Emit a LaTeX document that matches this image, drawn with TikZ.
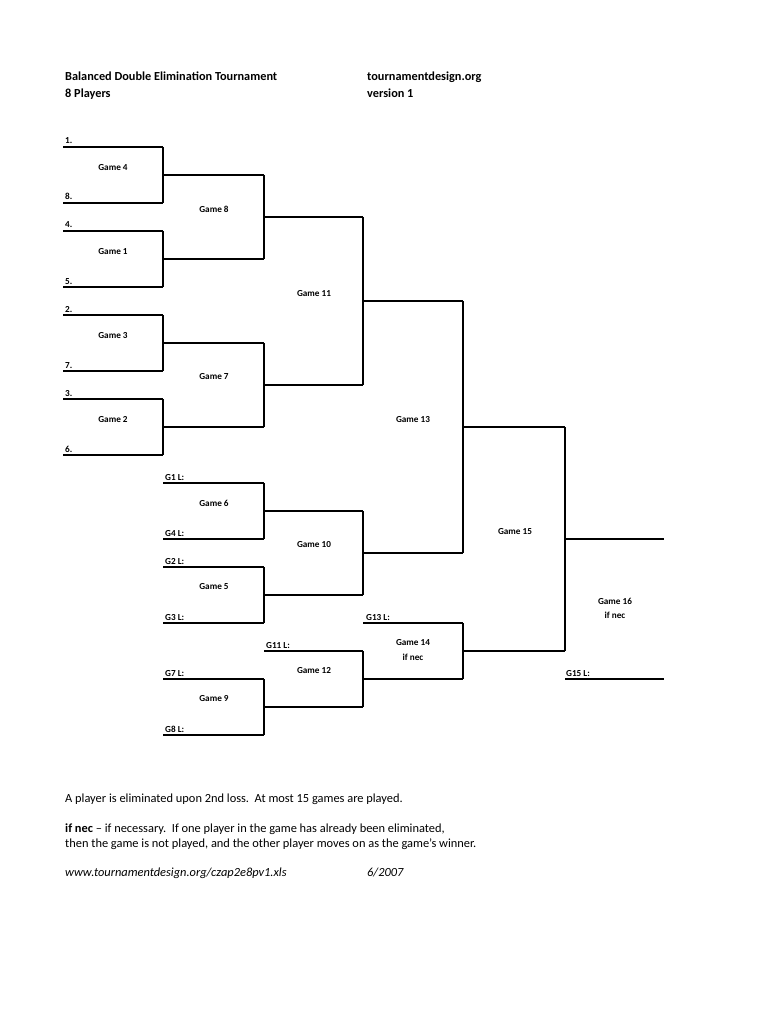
\documentclass[tikz,border=0pt]{standalone}
\usepackage{fontspec}
\setmainfont{Carlito}
\begin{document}
\begin{tikzpicture}[x=1pt,y=-1pt,
  ln/.style={line width=1.1pt,black},
  gm/.style={font=\bfseries\fontsize{9.2}{10}\selectfont,inner sep=0pt},
  pl/.style={font=\bfseries\fontsize{9.2}{10}\selectfont,inner sep=0pt,anchor=base west},
  hd/.style={font=\bfseries\fontsize{12.3}{14}\selectfont,inner sep=0pt,anchor=base west},
  tx/.style={font=\fontsize{12.4}{14}\selectfont,inner sep=0pt,anchor=base west}]
\useasboundingbox (0,0) rectangle (768,1024);
% helper: a horizontal line from x1 to x2 at y, named
\newcommand{\hl}[4]{\coordinate (#4a) at (#1,#3); \coordinate (#4b) at (#2,#3); \draw[ln] (#4a) -- (#4b);}
\newcommand{\vl}[4]{\coordinate (#4a) at (#1,#2); \coordinate (#4b) at (#1,#3); \draw[ln] (#4a) -- (#4b);}
% titles
\node[hd] (t1) at (65,81) {Balanced Double Elimination Tournament};
\node[hd] (t2) at (65,98) {8 Players};
\node[hd] (t3) at (367,81) {tournamentdesign.org};
\node[hd] (t4) at (367,98) {version 1};
% round 1
\hl{63}{163}{147}{p1} \hl{63}{163}{203}{p8} \hl{63}{163}{231}{p4} \hl{63}{163}{287}{p5}
\hl{63}{163}{315}{p2} \hl{63}{163}{371}{p7} \hl{63}{163}{399}{p3} \hl{63}{163}{455}{p6}
\vl{163}{147}{203}{v4} \vl{163}{231}{287}{v1} \vl{163}{315}{371}{v3} \vl{163}{399}{455}{v2}
% round 2
\hl{163}{264}{175}{w4} \hl{163}{264}{259}{w1} \hl{163}{264}{343}{w3} \hl{163}{264}{427}{w2}
\vl{264}{175}{259}{v8} \vl{264}{343}{427}{v7}
% round 3
\hl{264}{363}{217}{w8} \hl{264}{363}{385}{w7}
\vl{363}{217}{385}{v11}
\hl{363}{463}{301}{w11}
% losers
\hl{163}{264}{483}{l1} \hl{163}{264}{539}{l4} \hl{163}{264}{567}{l2} \hl{163}{264}{623}{l3}
\vl{264}{483}{539}{v6} \vl{264}{567}{623}{v5}
\hl{264}{363}{511}{w6} \hl{264}{363}{595}{w5}
\vl{363}{511}{595}{v10}
\hl{363}{463}{553}{w10}
\vl{463}{301}{553}{v13}
\hl{264}{363}{651}{l11} \hl{163}{264}{679}{l7} \hl{163}{264}{735}{l8}
\vl{264}{679}{735}{v9}
\hl{264}{363}{707}{w9}
\vl{363}{651}{707}{v12}
\hl{363}{463}{679}{w12}
\hl{363}{463}{623}{l13}
\vl{463}{623}{679}{v14}
\hl{463}{565}{651}{w14}
\hl{463}{565}{427}{w13}
\vl{565}{427}{651}{v15}
\hl{565}{664}{539}{w15}
\hl{565}{664}{679}{l15}
% player labels
\node[pl] (n1) at (65,144) {1.};
\node[pl] (n8) at (65,200) {8.};
\node[pl] (n4) at (65,228) {4.};
\node[pl] (n5) at (65,284) {5.};
\node[pl] (n2) at (65,312) {2.};
\node[pl] (n7) at (65,368) {7.};
\node[pl] (n3) at (65,396) {3.};
\node[pl] (n6) at (65,452) {6.};
\node[pl] (g1l) at (165,480) {G1 L:};
\node[pl] (g4l) at (165,536) {G4 L:};
\node[pl] (g2l) at (165,564) {G2 L:};
\node[pl] (g3l) at (165,620) {G3 L:};
\node[pl] (g11l) at (266,648) {G11 L:};
\node[pl] (g13l) at (366,620) {G13 L:};
\node[pl] (g7l) at (165,676) {G7 L:};
\node[pl] (g8l) at (165,732) {G8 L:};
\node[pl] (g15l) at (566,676) {G15 L:};
% game labels
\node[gm] (G4) at (113,168) {Game 4};
\node[gm] (G1) at (113,252) {Game 1};
\node[gm] (G3) at (113,336) {Game 3};
\node[gm] (G2) at (113,420) {Game 2};
\node[gm] (G8) at (214,209) {Game 8};
\node[gm] (G7) at (214,377) {Game 7};
\node[gm] (G11) at (314,294) {Game 11};
\node[gm] (G13) at (413,420) {Game 13};
\node[gm] (G6) at (214,503) {Game 6};
\node[gm] (G5) at (214,587) {Game 5};
\node[gm] (G10) at (314,545) {Game 10};
\node[gm] (G12) at (314,671) {Game 12};
\node[gm] (G9) at (214,699) {Game 9};
\node[gm] (G14) at (413,643) {Game 14};
\node[gm] (G14n) at (413,657) {if nec};
\node[gm] (G15) at (515,532) {Game 15};
\node[gm] (G16) at (615,601) {Game 16};
\node[gm] (G16n) at (615,615) {if nec};
% notes
\node[tx] (b1) at (65,802) {A player is eliminated upon 2nd loss.\ \ At most 15 games are played.};
\node[tx] (b2) at (65,832) {\textbf{if nec} -- if necessary.\ \ If one player in the game has already been eliminated,};
\node[tx] (b3) at (65,847) {then the game is not played, and the other player moves on as the game’s winner.};
\node[tx] (b4) at (65,876) {\itshape www.tournamentdesign.org/czap2e8pv1.xls};
\node[tx] (b5) at (367,876) {\itshape 6/2007};
\end{tikzpicture}
\end{document}
